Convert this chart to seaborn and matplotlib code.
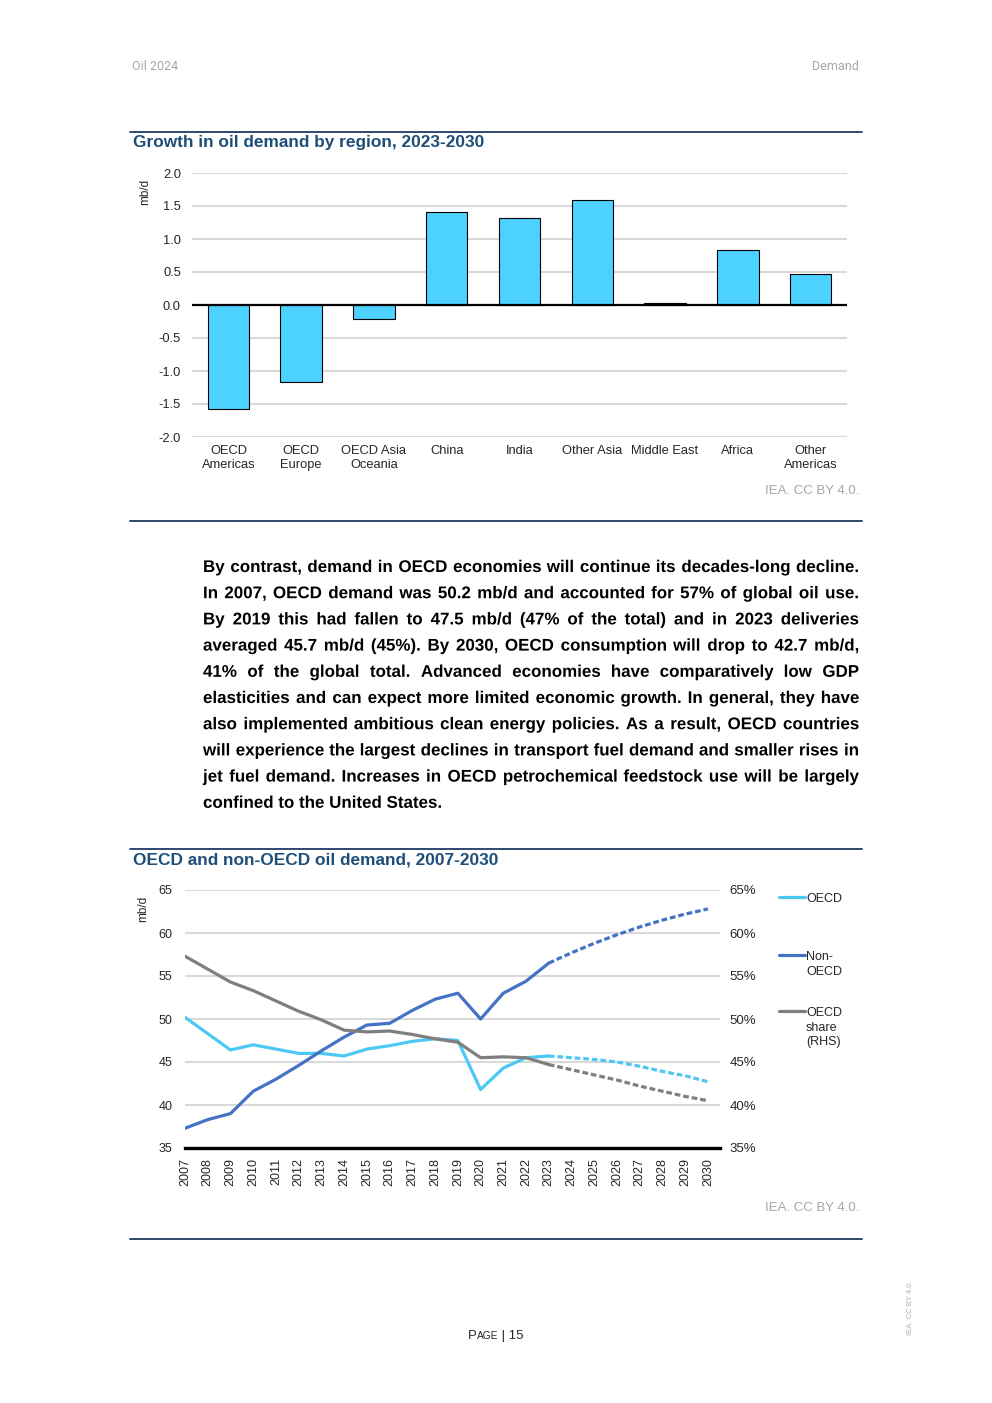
import numpy as np
import pandas as pd
import seaborn as sns
import matplotlib.pyplot as plt
import matplotlib.patheffects as pe
from matplotlib.lines import Line2D

# --- DATA ---
regions = ["OECD\nAmericas", "OECD\nEurope", "OECD Asia\nOceania", "China", "India",
           "Other Asia", "Middle East", "Africa", "Other\nAmericas"]
growth = [-1.58, -1.16, -0.21, 1.41, 1.32, 1.59, 0.03, 0.84, 0.47]
growth_ticks = [-2.0, -1.5, -1.0, -0.5, 0.0, 0.5, 1.0, 1.5, 2.0]

years = list(range(2007, 2031))
oecd = [50.2, 48.3, 46.4, 47.0, 46.5, 46.0, 46.0, 45.7, 46.5, 46.9, 47.4, 47.7,
        47.5, 41.8, 44.3, 45.5, 45.7, 45.5, 45.3, 45.0, 44.5, 43.9, 43.4, 42.7]
non_oecd = [37.3, 38.3, 39.0, 41.6, 43.0, 44.6, 46.3, 47.9, 49.3, 49.5, 51.0, 52.3,
            53.0, 50.0, 53.0, 54.4, 56.5, 57.7, 58.8, 59.8, 60.7, 61.5, 62.2, 62.8]
oecd_share = [57.3, 55.8, 54.3, 53.3, 52.1, 50.9, 49.9, 48.7, 48.5, 48.6, 48.2, 47.7,
              47.3, 45.5, 45.6, 45.5, 44.7, 44.1, 43.5, 42.9, 42.2, 41.6, 41.0, 40.5]
forecast_start = 2023
demand_ticks = [35, 40, 45, 50, 55, 60, 65]

paragraph = [
    "By contrast, demand in OECD economies will continue its decades-long decline.",
    "In 2007, OECD demand was 50.2 mb/d and accounted for 57% of global oil use.",
    "By 2019 this had fallen to 47.5 mb/d (47% of the total) and in 2023 deliveries",
    "averaged 45.7 mb/d (45%). By 2030, OECD consumption will drop to 42.7 mb/d,",
    "41% of the global total. Advanced economies have comparatively low GDP",
    "elasticities and can expect more limited economic growth. In general, they have",
    "also implemented ambitious clean energy policies. As a result, OECD countries",
    "will experience the largest declines in transport fuel demand and smaller rises in",
    "jet fuel demand. Increases in OECD petrochemical feedstock use will be largely",
    "confined to the United States.",
]

# --- STYLE ---
sns.set_style("white")
plt.rcParams['font.family'] = ['Liberation Sans', 'DejaVu Sans']

BAR_C = "#4DD2FF"
OECD_C = "#4DC8F4"
NON_C = "#4472C4"
SHARE_C = "#7F7F7F"
GRID_C = "#D9D9D9"
TITLE_C = "#1F4E79"
RULE_C = "#1F3864"
LIGHT = "#A6A6A6"
TXT = "#262626"

W, H = 992, 1403
def fx(x): return x / W
def fy(y): return 1 - y / H

fig = plt.figure(figsize=(W / 100, H / 100), dpi=100)

# header
fig.text(fx(132), fy(66), "Oil 2024", color=LIGHT, fontsize=9, va="center", family=["Roboto", "DejaVu Sans"])
fig.text(fx(859), fy(66), "Demand", color=LIGHT, fontsize=9, va="center", ha="right", family=["Roboto", "DejaVu Sans"])

# horizontal rules
for yy in [132, 521, 849, 1239]:
    fig.add_artist(Line2D([fx(130), fx(862)], [fy(yy), fy(yy)], color=RULE_C, lw=1.3, transform=fig.transFigure))

# --- chart 1: bars ---
fig.text(fx(133), fy(143), "Growth in oil demand by region, 2023-2030", color=TITLE_C,
         fontsize=12.4, fontweight="bold", va="center")
ax1 = fig.add_axes([fx(192), fy(437), (847 - 192) / W, (437 - 173) / H])
sns.barplot(x=regions, y=growth, color=BAR_C, saturation=1, edgecolor="black",
            linewidth=0.8, width=0.57, ax=ax1)
ax1.set_xlim(-0.5, len(regions) - 0.5)
ax1.set_ylim(-2, 2)
ax1.set_yticks(growth_ticks)
ax1.set_yticklabels([f"{v:.1f}" for v in growth_ticks])
ax1.yaxis.grid(True, color=GRID_C, lw=1.5)
ax1.set_axisbelow(True)
ax1.axhline(0, color="black", lw=1.6)
sns.despine(ax=ax1, left=True, bottom=True)
ax1.tick_params(axis="both", length=0, labelsize=9.3, colors=TXT)
ax1.tick_params(axis="y", pad=8)
ax1.tick_params(axis="x", pad=5.5)
for lab in ax1.get_xticklabels():
    lab.set_linespacing(1.3)
ax1.set_xlabel("")
ax1.set_ylabel("")
fig.text(fx(145), fy(192), "mb/d", rotation=90, fontsize=8.5, ha="center", va="center", color=TXT)
fig.text(fx(859), fy(491), "IEA. CC BY 4.0.", color=LIGHT, fontsize=9.5, ha="right", va="center")

# --- paragraph (justified, words drawn as paths so they share one baseline) ---
fig.canvas.draw()
rend = fig.canvas.get_renderer()
pkw = dict(fontsize=12.2, fontweight="bold", color="black", va="baseline", ha="left")

def wwidth(s, **kw):
    t = fig.text(0, 0, s, **kw)
    w = t.get_window_extent(rend).width
    t.remove()
    return w

left, right = 203, 859
for i, line in enumerate(paragraph):
    base = 572 + 26.2 * i
    if i == len(paragraph) - 1:
        fig.text(fx(left), fy(base), line, path_effects=[pe.Normal()], **pkw)
        continue
    words = line.split(" ")
    ws = [wwidth(w, **pkw) for w in words]
    gap = (right - left - sum(ws)) / (len(words) - 1)
    x = left
    for w, wd in zip(words, ws):
        fig.text(fx(x), fy(base), w, path_effects=[pe.Normal()], **pkw)
        x += wd + gap

# --- chart 2: lines ---
fig.text(fx(133), fy(860), "OECD and non-OECD oil demand, 2007-2030", color=TITLE_C,
         fontsize=12.4, fontweight="bold", va="center")
ax2 = fig.add_axes([fx(185), fy(1148), (720 - 185) / W, (1148 - 890) / H])
ax3 = ax2.twinx()

hist = [y <= forecast_start for y in years]
proj = [y >= forecast_start for y in years]
df = pd.DataFrame({"year": years, "oecd": oecd, "non": non_oecd, "share": oecd_share})
dh, dp = df[hist], df[proj]
dash = (1.8, 0.9)
LW = 2.3
sns.lineplot(data=dh, x="year", y="oecd", color=OECD_C, lw=LW, ax=ax2)
sns.lineplot(data=dp, x="year", y="oecd", color=OECD_C, lw=LW, ax=ax2).lines[-1].set_dashes(dash)
sns.lineplot(data=dh, x="year", y="non", color=NON_C, lw=LW, ax=ax2)
sns.lineplot(data=dp, x="year", y="non", color=NON_C, lw=LW, ax=ax2).lines[-1].set_dashes(dash)
sns.lineplot(data=dh, x="year", y="share", color=SHARE_C, lw=LW, ax=ax3)
sns.lineplot(data=dp, x="year", y="share", color=SHARE_C, lw=LW, ax=ax3).lines[-1].set_dashes(dash)

for a in (ax2, ax3):
    a.set_ylim(35, 65)
    a.set_yticks(demand_ticks)
    a.set_xlim(2007, 2030.53)
    a.set_xlabel("")
    a.set_ylabel("")
    for s in a.spines.values():
        s.set_visible(False)
ax2.yaxis.grid(True, color=GRID_C, lw=1.5)
ax2.set_axisbelow(True)
ax2.spines["bottom"].set_visible(True)
ax2.spines["bottom"].set_linewidth(2.4)
ax2.spines["bottom"].set_color("black")
ax2.spines["bottom"].set_zorder(5)
ax2.set_xticks(years)
ax2.set_xticklabels([str(y) for y in years], rotation=90)
ax2.tick_params(axis="x", length=4, width=1.6, colors="black", labelcolor=TXT, labelsize=9, pad=3)
ax2.tick_params(axis="y", length=0, labelsize=9, colors=TXT, pad=9)
ax3.set_yticklabels([f"{v}%" for v in demand_ticks])
ax3.tick_params(axis="y", length=0, labelsize=9.5, colors=TXT, pad=7)
fig.text(fx(143), fy(909), "mb/d", rotation=90, fontsize=8.5, ha="center", va="center", color=TXT)

# legend (drawn beside the plot)
leg_items = [("OECD", OECD_C, 897), ("Non-\nOECD", NON_C, 955), ("OECD\nshare\n(RHS)", SHARE_C, 1011)]
for lab, col, yy in leg_items:
    fig.add_artist(Line2D([fx(779), fx(805)], [fy(yy), fy(yy)], color=col, lw=LW,
                          transform=fig.transFigure))
    fig.text(fx(806), fy(yy - 3.5), lab, fontsize=9, va="top", ha="left", color=TXT, linespacing=1.25)

fig.text(fx(859), fy(1208), "IEA. CC BY 4.0.", color=LIGHT, fontsize=9.5, ha="right", va="center")

# footer
fkw = dict(color=TXT, va="baseline", ha="left")
x = 468
for s, fs in [("P", 9.5), ("AGE", 7.3), (" | 15", 9.5)]:
    fig.text(fx(x), fy(1339), s, fontsize=fs, **fkw)
    x += wwidth(s, fontsize=fs, **fkw)
fig.text(fx(910), fy(1308), "IEA. CC BY 4.0.", rotation=90, fontsize=5.5, color="#B0B0B0",
         ha="center", va="center")

fig.savefig("out.png", dpi=100)
